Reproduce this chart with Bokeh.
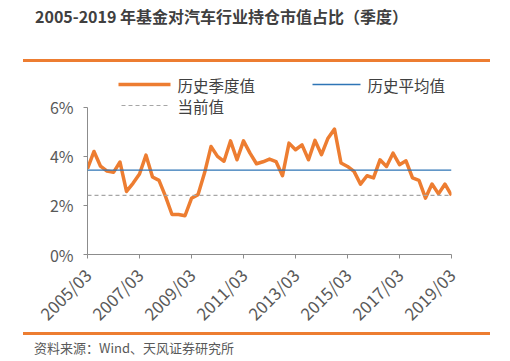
from bokeh.plotting import figure
from bokeh.layouts import column
from bokeh.models import Label, PolyAnnotation, Span, FixedTicker, PrintfTickFormatter, Range1d, Div
from bokeh.embed import file_html
from bokeh.resources import INLINE
import math

title_text = "2005-2019 年基金对汽车行业持仓市值占比（季度）"
source_text = "资料来源：Wind、天风证券研究所"
series_names = ["历史季度值", "历史平均值", "当前值"]
tick_labels = ["2005/03", "2007/03", "2009/03", "2011/03",
               "2013/03", "2015/03", "2017/03", "2019/03"]
# quarterly share of auto industry in fund holdings (%), 2005Q1 .. 2019Q1
values = [3.50, 4.20, 3.60, 3.40, 3.35, 3.77, 2.57, 2.90, 3.28, 4.05,
          3.16, 3.02, 2.37, 1.63, 1.63, 1.58, 2.29, 2.44, 3.32, 4.40,
          4.00, 3.80, 4.63, 3.86, 4.63, 4.13, 3.70, 3.78, 3.89, 3.79,
          3.21, 4.54, 4.27, 4.47, 3.86, 4.65, 4.07, 4.74, 5.11, 3.73,
          3.59, 3.39, 2.87, 3.21, 3.12, 3.86, 3.59, 4.13, 3.66, 3.82,
          3.12, 3.02, 2.30, 2.87, 2.47, 2.87, 2.41]
hist_avg = 3.44
current = values[-1]
y_ticks = [0, 2, 4, 6]
y_max = 6

ORANGE = "#ED7D31"
BLUE = "#2E75B6"
GREY = "#A6A6A6"
TXT = "#404040"
FONT = "Noto Sans CJK SC"

W = 510
TOP_H = 62
MAIN_H = 274
BOT_H = 25
BOT_Y = TOP_H + MAIN_H  # page y where the bottom strip starts
# main frame edges in page px
FL, FR, FTOP, FB = 87, 451, 70, 255
Y6 = 107  # page y of the 6% level

# ---- top strip: title + rule
top = Div(
    text=(f'<div style="position:relative;width:{W}px;height:{TOP_H}px;">'
          f'<div style="position:absolute;left:35px;top:5px;line-height:22px;white-space:nowrap;'
          f"font-family:'{FONT}';font-size:16px;font-weight:bold;color:{TXT};\">{title_text}</div>"
          f'<div style="position:absolute;left:23px;top:59px;width:467px;height:2.5px;'
          f'background:{ORANGE};"></div></div>'),
    width=W, height=TOP_H, margin=0)

# ---- main chart
per_pct = (FB - Y6) / y_max
y_top = (FB - FTOP) / per_pct
p = figure(width=W, height=MAIN_H, output_backend="svg", toolbar_location=None,
           x_range=Range1d(0, len(values) - 1), y_range=Range1d(0, y_top),
           min_border_left=FL, min_border_right=W - FR,
           min_border_top=FTOP - TOP_H, min_border_bottom=BOT_Y - FB)
p.outline_line_color = None
p.xgrid.visible = False
p.ygrid.visible = False
p.background_fill_color = "white"
p.border_fill_color = "white"

xs = list(range(len(values)))
p.add_layout(Span(location=hist_avg, dimension="width", line_color=BLUE, line_width=1.3))
p.add_layout(Span(location=current, dimension="width", line_color=GREY, line_width=1.2,
                  line_dash="4 3"))
p.line(xs, values, line_color=ORANGE, line_width=3.5, line_join="round")

p.xaxis.ticker = FixedTicker(ticks=[i * 8 for i in range(len(tick_labels))])
p.xaxis.major_label_overrides = {i * 8: t for i, t in enumerate(tick_labels)}
p.xaxis.major_label_orientation = math.pi / 4
p.yaxis.ticker = FixedTicker(ticks=y_ticks)
p.yaxis.formatter = PrintfTickFormatter(format="%d%%")
p.yaxis.bounds = (0, y_max)
for ax in (p.xaxis, p.yaxis):
    ax.axis_line_color = "#8C8C8C"
    ax.major_tick_line_color = "#8C8C8C"
    ax.minor_tick_line_color = None
    ax.major_tick_in = 0
    ax.major_tick_out = 4
    ax.major_label_text_font = FONT
    ax.major_label_text_color = "#595959"
p.xaxis.major_label_text_font_size = "17px"
p.yaxis.major_label_text_font_size = "16px"
p.yaxis.major_label_standoff = 10
p.xaxis.major_label_standoff = 13


def sx(X):
    return X - FL


def sy(Y):
    return FB - Y


def text(X, Y, t, size, color=TXT):
    p.add_layout(Label(x=sx(X), y=sy(Y), x_units="screen", y_units="screen", text=t,
                       text_font=FONT, text_font_size=size, text_color=color,
                       text_baseline="middle", text_align="left"))


def hline(X1, X2, Y, color, width, dash="solid"):
    p.add_layout(PolyAnnotation(xs=[sx(X1), sx(X2)], ys=[sy(Y), sy(Y)],
                                xs_units="screen", ys_units="screen",
                                line_color=color, line_width=width, line_dash=dash,
                                line_alpha=1.0, fill_alpha=0))


hline(118, 170, 85, ORANGE, 3.5)
text(177, 85, series_names[0], "15.5px")
hline(312, 360, 85, BLUE, 1.3)
text(367, 85, series_names[1], "15.5px")
hline(121, 170, 106, GREY, 1.2, "4 3")
text(177, 106, series_names[2], "15.5px")

# ---- bottom strip: rule + source
bot = Div(
    text=(f'<div style="position:relative;width:{W}px;height:{BOT_H}px;overflow:visible;">'
          f'<div style="position:absolute;left:23px;top:{333 - 1.5 - BOT_Y}px;width:467px;height:3px;'
          f'background:{ORANGE};"></div>'
          f'<div style="position:absolute;left:34px;top:{348 - 9 - BOT_Y}px;line-height:18px;white-space:nowrap;'
          f"font-family:'{FONT}';font-size:13px;color:#595959;\">{source_text}</div></div>"),
    width=W, height=BOT_H, margin=0, styles={"overflow": "visible"})

layout = column(top, p, bot, spacing=0)
open("out.html", "w").write(file_html(layout, INLINE))
